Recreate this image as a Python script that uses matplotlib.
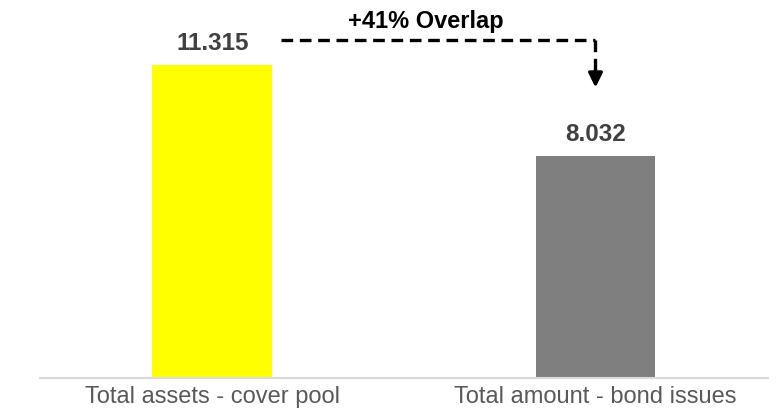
import matplotlib.pyplot as plt

categories = ['Total assets - cover pool', 'Total amount - bond issues']
values = [11.315, 8.032]
value_labels = ['11.315', '8.032']
bar_colors = ['#ffff00', '#7f7f7f']
overlap_label = '+41% Overlap'

plt.rcParams['font.family'] = ['Liberation Sans', 'DejaVu Sans']

fig = plt.figure(figsize=(7.82, 4.14), dpi=100)
ax = fig.add_axes([0.051, 0.0845, 0.931, 0.9155])

x = list(range(len(categories)))
ax.bar(x, values, width=0.313, color=bar_colors)

for xi, v, lab in zip(x, values, value_labels):
    ax.annotate(lab, (xi, v), xytext=(0, 16), textcoords='offset points',
                ha='center', va='center', fontsize=17.5, fontweight='bold', color='#404040')

# dashed connector from first to second bar
y_line = 12.22
ax.plot([0.179, x[1]], [y_line, y_line], color='black', lw=2.4, ls=(0, (3.5, 2)),
        dash_capstyle='butt')
ax.plot([x[1], x[1]], [y_line, 11.1], color='black', lw=2.4, ls=(0, (3.5, 2)),
        dash_capstyle='butt')
ax.annotate('', xy=(x[1], 10.5), xytext=(x[1], 11.15),
            arrowprops=dict(arrowstyle='-|>,head_length=0.85,head_width=0.42',
                            color='black', lw=2.4, shrinkA=0, shrinkB=0))
ax.text(0.557, 12.91, overlap_label, ha='center', va='center',
        fontsize=17, fontweight='bold', color='black')

ax.set_xlim(-0.45, 1.45)
ax.set_ylim(0, 13.70)
ax.set_xticks(x)
ax.set_xticklabels(categories, fontsize=17, color='#595959')
ax.tick_params(axis='x', length=0, pad=5)
ax.set_yticks([])
for side in ['left', 'right', 'top']:
    ax.spines[side].set_visible(False)
ax.spines['bottom'].set_color('#d9d9d9')
ax.spines['bottom'].set_linewidth(1.5)

fig.savefig('out.png', dpi=100)
